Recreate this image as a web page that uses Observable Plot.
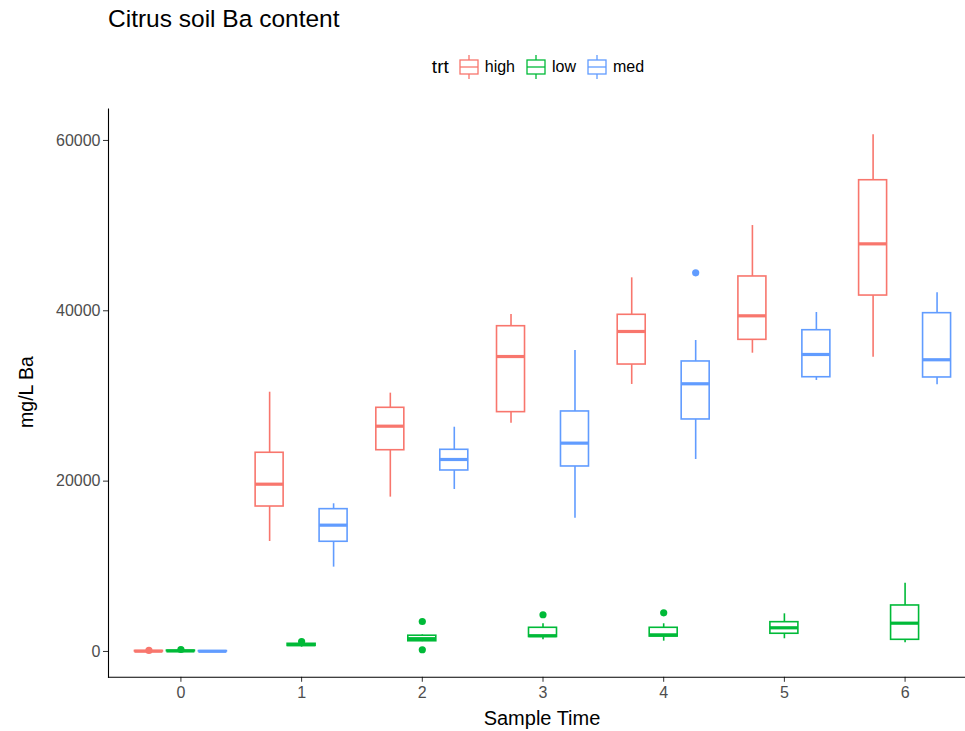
<!DOCTYPE html>
<html>
<head>
<meta charset="utf-8">
<script src="https://cdn.jsdelivr.net/npm/d3@7"></script>
<script src="https://cdn.jsdelivr.net/npm/@observablehq/plot@0.6"></script>
<style>
  html, body { margin: 0; padding: 0; background: #fff; overflow: hidden; }
  body { width: 965px; height: 731px; position: relative; font-family: "Liberation Sans", Arial, Helvetica, sans-serif; }
  #header { position: relative; height: 90px; }
  #title { position: absolute; left: 108px; top: 5px; font-size: 24.5px; line-height: 28px; color: #000; }
  #legend { position: absolute; left: 108px; width: 869px; top: 52px; display: flex; justify-content: center; align-items: center; height: 30px; }
  #legend .ttl { font-size: 19px; color: #000; margin-right: 8px; }
  #legend .lab { font-size: 16px; color: #000; margin-left: 4px; margin-right: 9px; }
  #legend svg { display: block; }
  #chart { position: absolute; left: 0; top: 90px; }
  #chart svg { max-width: none !important; display: block; }
  #ylab { position: absolute; left: 26px; top: 392px; transform: translate(-50%, -50%) rotate(-90deg); font-size: 19.5px; white-space: nowrap; color: #000; }
  #xlab { position: absolute; left: 542px; top: 707px; transform: translateX(-50%); font-size: 20px; line-height: 22px; white-space: nowrap; color: #000; }
</style>
</head>
<body>
<div id="header">
  <div id="title">Citrus soil Ba content</div>
  <div id="legend"></div>
</div>
<div id="chart"></div>
<div id="ylab">mg/L Ba</div>
<div id="xlab">Sample Time</div>
<script>
// ---- data ----
const times = [0, 1, 2, 3, 4, 5, 6];
const trts = ["high", "low", "med"];
const colors = ["#F8766D", "#00BA38", "#619CFF"];
const yTicks = [0, 20000, 40000, 60000];

const highLo  = [0, 12910, 18120, 26800, 31350, 35020, 34550];
const highQ1  = [0, 17020, 23630, 28100, 33690, 36590, 41790];
const highMed = [30, 19640, 26450, 34630, 37570, 39410, 47860];
const highQ3  = [60, 23330, 28610, 38190, 39530, 44030, 55330];
const highHi  = [80, 30440, 30330, 39560, 43870, 50010, 60660];

const lowLo  = [0, 500, 1150, 1370, 1210, 1490, 1020];
const lowQ1  = [30, 650, 1200, 1700, 1750, 2080, 1370];
const lowMed = [60, 800, 1500, 1850, 1950, 2780, 3320];
const lowQ3  = [100, 900, 1850, 2780, 2780, 3440, 5400];
const lowHi  = [130, 1000, 1950, 3250, 3250, 4420, 8020];

const medLo  = [0, 9900, 19020, 15650, 22540, 31820, 31310];
const medQ1  = [0, 12880, 21250, 21720, 27240, 32200, 32170];
const medMed = [20, 14830, 22540, 24460, 31430, 34870, 34250];
const medQ3  = [40, 16710, 23680, 28180, 34050, 37720, 39720];
const medHi  = [60, 17340, 26330, 35340, 36510, 39800, 42110];

const outlierTime  = [0, 0, 1, 2, 2, 3, 4, 4];
const outlierTrt   = ["high", "low", "low", "low", "low", "low", "low", "med"];
const outlierValue = [120, 230, 1170, 3520, 200, 4310, 4540, 44460];

// ---- build tables ----
const stats = {
  high: {lo: highLo, q1: highQ1, med: highMed, q3: highQ3, hi: highHi},
  low:  {lo: lowLo,  q1: lowQ1,  med: lowMed,  q3: lowQ3,  hi: lowHi},
  med:  {lo: medLo,  q1: medQ1,  med: medMed,  q3: medQ3,  hi: medHi}
};
const boxes = times.flatMap((t, i) => trts.map(trt => ({
  time: t, trt,
  lo: stats[trt].lo[i], q1: stats[trt].q1[i], med: stats[trt].med[i],
  q3: stats[trt].q3[i], hi: stats[trt].hi[i]
})));
const outliers = outlierValue.map((v, i) => ({time: outlierTime[i], trt: outlierTrt[i], value: v}));

// dodge (ggplot position_dodge equivalent, in data units)
const dodgeStep = 0.265, halfW = 0.116;
const pos = d => d.time + (trts.indexOf(d.trt) - 1) * dodgeStep;

const font = '"Liberation Sans", Arial, Helvetica, sans-serif';

const chart = Plot.plot({
  width: 977,
  height: 641,
  marginTop: 18.5,
  marginBottom: 54.2,
  marginLeft: 108,
  marginRight: 0,
  style: {fontFamily: font, background: "#fff", maxWidth: "none"},
  x: {domain: [-0.6, 6.6]},
  y: {domain: [-3033, 63693]},
  color: {domain: trts, range: colors},
  marks: [
    Plot.axisX({ticks: times, tickFormat: d => String(d), tickSize: 5, tickPadding: 4, fontSize: 16, label: null, color: "#4d4d4d", stroke: "#333"}),
    Plot.axisY({ticks: yTicks, tickFormat: d => String(d), tickSize: 5, tickPadding: 3, fontSize: 16, label: null, color: "#4d4d4d", stroke: "#333"}),
    Plot.ruleX(boxes, {x: pos, y1: "q3", y2: "hi", stroke: "trt", strokeWidth: 1.6}),
    Plot.ruleX(boxes, {x: pos, y1: "lo", y2: "q1", stroke: "trt", strokeWidth: 1.6}),
    Plot.rect(boxes, {x1: d => pos(d) - halfW, x2: d => pos(d) + halfW, y1: "q1", y2: "q3", fill: "white", stroke: "trt", strokeWidth: 1.6}),
    Plot.ruleY(boxes, {x1: d => pos(d) - halfW, x2: d => pos(d) + halfW, y: "med", stroke: "trt", strokeWidth: 3.2}),
    Plot.dot(outliers, {x: pos, y: "value", fill: "trt", r: 3.6, stroke: "none"}),
    Plot.frame({anchor: "left", stroke: "#000", strokeWidth: 1.1}),
    Plot.frame({anchor: "bottom", stroke: "#000", strokeWidth: 1.1})
  ]
});
chart.style.maxWidth = "none";
document.getElementById("chart").appendChild(chart);

// ---- legend ----
const legend = document.getElementById("legend");
const t = document.createElement("span");
t.className = "ttl"; t.textContent = "trt";
legend.appendChild(t);
trts.forEach((trt, i) => {
  const c = colors[i];
  const ns = "http://www.w3.org/2000/svg";
  const svg = document.createElementNS(ns, "svg");
  svg.setAttribute("width", 24); svg.setAttribute("height", 30);
  svg.innerHTML = `<line x1="12" x2="12" y1="3" y2="8" stroke="${c}" stroke-width="1.3"/>
    <line x1="12" x2="12" y1="22" y2="27" stroke="${c}" stroke-width="1.3"/>
    <rect x="3" y="8" width="18" height="14" fill="white" stroke="${c}" stroke-width="1.3"/>
    <line x1="3" x2="21" y1="15" y2="15" stroke="${c}" stroke-width="1.3"/>`;
  legend.appendChild(svg);
  const l = document.createElement("span");
  l.className = "lab"; l.textContent = trt;
  legend.appendChild(l);
});
</script>
</body>
</html>
